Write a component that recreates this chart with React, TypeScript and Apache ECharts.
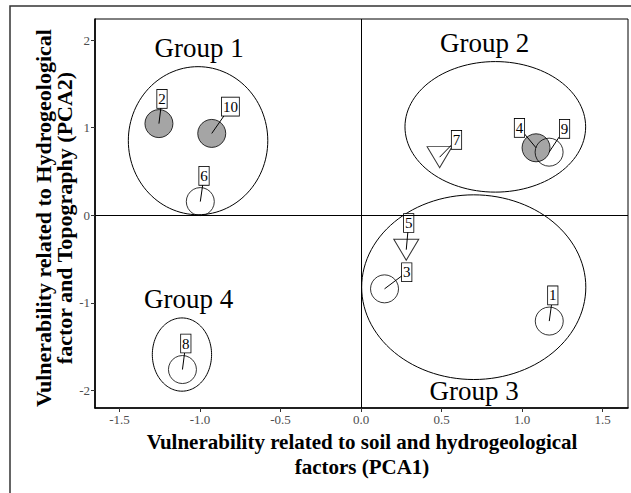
import React, { useEffect, useRef } from "react";
import * as echarts from "echarts";

const FONT = '"Liberation Serif", "Times New Roman", serif';

// Sites (PCA scores)
const pointIds = ["1", "2", "3", "4", "5", "6", "7", "8", "9", "10"];
const pca1 = [1.169, -1.255, 0.146, 1.087, 0.281, -0.998, 0.488, -1.109, 1.168, -0.927];
const pca2 = [-1.208, 1.046, -0.84, 0.77, -0.393, 0.156, 0.663, -1.761, 0.72, 0.934];
const shapes = ["circle", "circle", "circle", "circle", "triangle", "circle", "triangle", "circle", "circle", "circle"];
const filled = [false, true, false, true, false, false, false, false, false, true];
// repelled label anchors (data units)
const labelX = [1.191, -1.236, 0.284, 0.984, 0.296, -0.975, 0.593, -1.088, 1.264, -0.811];
const labelY = [-0.915, 1.328, -0.65, 0.997, -0.089, 0.45, 0.86, -1.464, 0.986, 1.24];

// Group ellipses
const groupNames = ["Group 1", "Group 2", "Group 3", "Group 4"];
const groupCx = [-1.012, 0.834, 0.7, -1.112];
const groupCy = [0.851, 1.009, -0.821, -1.59];
const groupRx = [0.433, 0.561, 0.696, 0.184];
const groupRy = [0.845, 0.745, 1.054, 0.418];
const groupLabelX = [-1.006, 0.767, 0.702, -1.071];
const groupLabelY = [1.909, 1.963, -2.002, -0.954];

const xTicks = [-1.5, -1, -0.5, 0, 0.5, 1, 1.5];
const yTicks = [-2, -1, 0, 1, 2];

const xTitleLines = ["Vulnerability related to soil and hydrogeological", "factors (PCA1)"];
const yTitle = "Vulnerability related to Hydrogeological\nfactor and Topography (PCA2)";

export default function App() {
  const ref = useRef<HTMLDivElement>(null);

  useEffect(() => {
    if (!ref.current) return;
    const chart = echarts.init(ref.current, undefined, { renderer: "svg" });

    const scatterData = pointIds.map((id, i) => ({
      name: id,
      value: [pca1[i], pca2[i]],
      symbol: shapes[i] === "triangle" ? "triangle" : "circle",
      symbolSize: shapes[i] === "triangle" ? [25, 21] : 28,
      symbolRotate: shapes[i] === "triangle" ? 180 : 0,
      itemStyle: {
        color: filled[i] ? "#8f8f8f" : "rgba(255,255,255,0)",
        borderColor: "#000",
        borderWidth: 1,
      },
    }));

    const ellipseData = groupNames.map((g, i) => [groupCx[i], groupCy[i], groupRx[i], groupRy[i], groupLabelX[i], groupLabelY[i]]);
    const labelData = pointIds.map((id, i) => [pca1[i], pca2[i], labelX[i], labelY[i]]);

    const axisLabelBase = { fontFamily: FONT, fontSize: 13, color: "#4d4d4d", margin: 5 };
    const titleStyle = { fontFamily: FONT, fontSize: 22, fontWeight: "bold", fill: "#000", align: "center", verticalAlign: "middle" };

    chart.setOption({
      animation: false,
      backgroundColor: "#fff",
      graphic: [
        {
          type: "rect",
          silent: true,
          z: -10,
          shape: { x: 10, y: 6, width: 700, height: 600 },
          style: { fill: "none", stroke: "#333", lineWidth: 1.5 },
        },
        {
          type: "text",
          silent: true,
          x: 362,
          y: 442,
          style: { ...titleStyle, fontSize: 21, text: xTitleLines[0] },
        },
        {
          type: "text",
          silent: true,
          x: 362,
          y: 467,
          style: { ...titleStyle, fontSize: 21, text: xTitleLines[1] },
        },
        {
          type: "text",
          silent: true,
          x: 54,
          y: 218,
          rotation: Math.PI / 2,
          style: { ...titleStyle, text: yTitle, lineHeight: 21 },
        },
      ],
      grid: { left: 95, right: 3, top: 19, bottom: 85, show: true, borderColor: "#000", borderWidth: 1, backgroundColor: "transparent" },
      xAxis: {
        type: "value",
        min: -1.652,
        max: 1.658,
        axisLine: { show: true, onZero: false, lineStyle: { color: "#000", width: 1.6 } },
        axisTick: { show: true, length: 4, customValues: xTicks, lineStyle: { color: "#333" } },
        axisLabel: { ...axisLabelBase, customValues: xTicks, formatter: (v: number) => v.toFixed(1) },
        splitLine: { show: false },
      },
      yAxis: {
        type: "value",
        min: -2.2,
        max: 2.24,
        axisLine: { show: true, onZero: false, lineStyle: { color: "#000", width: 1.6 } },
        axisTick: { show: true, length: 4, customValues: yTicks, lineStyle: { color: "#333" } },
        axisLabel: { ...axisLabelBase, customValues: yTicks, formatter: (v: number) => String(v) },
        splitLine: { show: false },
      },
      series: [
        {
          type: "custom",
          z: 1,
          silent: true,
          data: ellipseData,
          renderItem: (params: any, api: any) => {
            const cx = api.value(0), cy = api.value(1), rx = api.value(2), ry = api.value(3);
            const pts: number[][] = [];
            const N = 120;
            for (let k = 0; k < N; k++) {
              const t = (2 * Math.PI * k) / N;
              pts.push(api.coord([cx + rx * Math.cos(t), cy + ry * Math.sin(t)]));
            }
            const lp = api.coord([api.value(4), api.value(5)]);
            return {
              type: "group",
              children: [
                { type: "polygon", shape: { points: pts }, style: { fill: "none", stroke: "#000", lineWidth: 1 } },
                {
                  type: "text",
                  x: lp[0],
                  y: lp[1],
                  style: {
                    text: groupNames[params.dataIndex],
                    fontFamily: FONT,
                    fontSize: 27,
                    fill: "#000",
                    align: "center",
                    verticalAlign: "middle",
                  },
                },
              ],
            };
          },
        },
        {
          type: "scatter",
          z: 2,
          silent: true,
          emphasis: { disabled: true },
          data: scatterData,
          markLine: {
            silent: true,
            symbol: ["none", "none"],
            label: { show: false },
            lineStyle: { color: "#000", width: 1, type: "solid" },
            data: [{ xAxis: 0 }, { yAxis: 0 }],
          },
        },
        {
          type: "custom",
          z: 3,
          silent: true,
          data: labelData,
          renderItem: (params: any, api: any) => {
            const p = api.coord([api.value(0), api.value(1)]);
            const l = api.coord([api.value(2), api.value(3)]);
            return {
              type: "group",
              children: [
                { type: "line", shape: { x1: p[0], y1: p[1], x2: l[0], y2: l[1] }, style: { stroke: "#000", lineWidth: 1 } },
                {
                  type: "text",
                  x: l[0],
                  y: l[1],
                  style: {
                    text: pointIds[params.dataIndex],
                    fontFamily: FONT,
                    fontSize: 15,
                    fill: "#000",
                    align: "center",
                    verticalAlign: "middle",
                    lineHeight: 16,
                    padding: [1, 1, 1, 1],
                    backgroundColor: "#fff",
                    borderColor: "#000",
                    borderWidth: 0.8,
                  },
                },
              ],
            };
          },
        },
      ],
    });

    return () => chart.dispose();
  }, []);

  return (
    <div
      ref={ref}
      style={{ position: "absolute", left: 0, top: 0, width: 631, height: 493, background: "#fff" }}
    />
  );
}
